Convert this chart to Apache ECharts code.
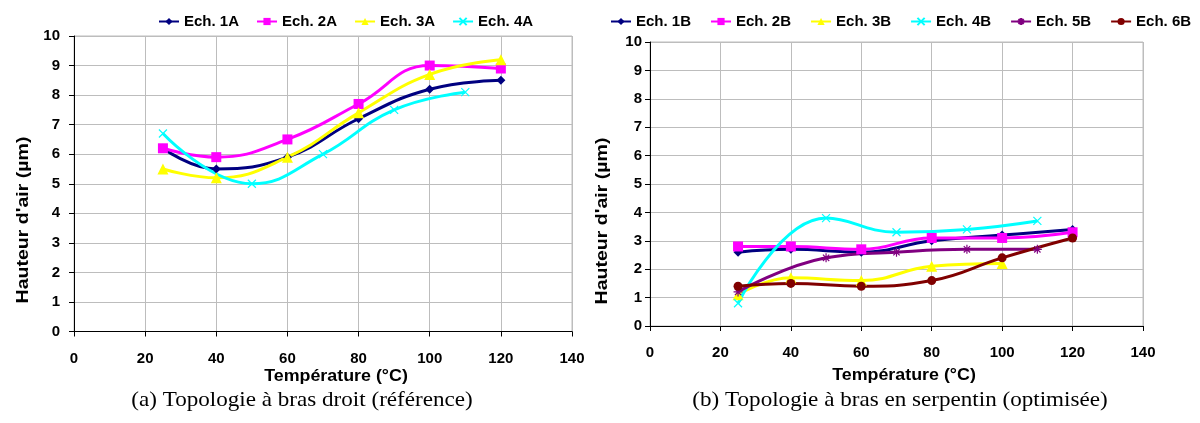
<!DOCTYPE html>
<html>
<head>
<meta charset="utf-8">
<title>Hauteur d'air</title>
<script src="https://cdn.jsdelivr.net/npm/echarts@6/dist/echarts.min.js"></script>
<style>
  html, body { margin: 0; padding: 0; background: #fff; }
  #chart { width: 1200px; height: 423px; }
</style>
</head>
<body>
<div id="chart"></div>
<script>
// températures (°C)
const tempMain = [25, 40, 60, 80, 100, 120]
const tempAlt = [25, 50, 70, 90, 110]

// (a) topologie à bras droit
const ech1A = [6.2, 5.5, 5.9, 7.2, 8.2, 8.5]
const ech2A = [6.2, 5.9, 6.5, 7.7, 9.0, 8.9]
const ech3A = [5.5, 5.2, 5.9, 7.4, 8.7, 9.2]
const ech4A = [6.7, 5.0, 6.0, 7.5, 8.1]

// (b) topologie à bras en serpentin
const ech1B = [2.6, 2.7, 2.6, 3.0, 3.2, 3.4]
const ech2B = [2.8, 2.8, 2.7, 3.1, 3.1, 3.3]
const ech3B = [1.1, 1.7, 1.6, 2.1, 2.2]
const ech4B = [0.8, 3.8, 3.3, 3.4, 3.7]
const ech5B = [1.2, 2.4, 2.6, 2.7, 2.7]
const ech6B = [1.4, 1.5, 1.4, 1.6, 2.4, 3.1]

const xTicks = [0, 20, 40, 60, 80, 100, 120, 140]

const font = 'Liberation Sans, Arial, sans-serif'
const serif = 'Liberation Serif, Times New Roman, serif'
const xMark = 'path://M0,0L10,10M10,0L0,10'
const starMark = 'path://M0,5L10,5M5,0L5,10M1.5,1.5L8.5,8.5M8.5,1.5L1.5,8.5'

// associe les abscisses et les valeurs
function pts(xs, ys) {
  return ys.map((y, i) => [xs[i], y])
}

function serie(name, grid, xs, ys, color, symbol, size, stroke) {
  return {
    name: name,
    type: 'line',
    xAxisIndex: grid,
    yAxisIndex: grid,
    data: pts(xs, ys),
    smooth: 0.45,
    symbol: symbol,
    symbolSize: size,
    showAllSymbol: true,
    lineStyle: { color: color, width: 3 },
    itemStyle: stroke
      ? { color: color, borderColor: color, borderWidth: 1.2 }
      : { color: color, borderWidth: 0 },
    emphasis: { disabled: true },
    z: 3
  }
}

function xAxisCfg(grid, margin) {
  return {
    gridIndex: grid,
    type: 'value',
    min: 0,
    max: 140,
    interval: 20,
    axisLine: { show: true, onZero: false, lineStyle: { color: '#000', width: 1 } },
    axisTick: { show: true, length: 5, lineStyle: { color: '#000' } },
    axisLabel: {
      margin: margin,
      color: '#000',
      fontFamily: font,
      fontWeight: 'bold',
      fontSize: 15,
      formatter: v => (xTicks.indexOf(v) >= 0 ? String(v) : '')
    },
    splitLine: { show: true, lineStyle: { color: '#bdbdbd', width: 1 } }
  }
}

function yAxisCfg(grid, margin) {
  return {
    gridIndex: grid,
    type: 'value',
    min: 0,
    max: 10,
    interval: 1,
    axisLine: { show: true, onZero: false, lineStyle: { color: '#000', width: 1 } },
    axisTick: { show: true, length: 5, lineStyle: { color: '#000' } },
    axisLabel: {
      margin: margin,
      color: '#000',
      fontFamily: font,
      fontWeight: 'bold',
      fontSize: 15
    },
    splitLine: { show: true, lineStyle: { color: '#bdbdbd', width: 1 } }
  }
}

// texte libre (titres d'axes, légendes des figures)
function label(text, x, y, css, rotate, sx) {
  return {
    type: 'text', x: x, y: y,
    rotation: rotate ? Math.PI / 2 : 0,
    scaleX: sx || 1,
    style: { text: text, fill: '#000', font: css, align: 'center', verticalAlign: 'middle' }
  }
}

const legendText = { color: '#000', fontFamily: font, fontWeight: 'bold', fontSize: 15 }

const chart = echarts.init(document.getElementById('chart'), null, { renderer: 'canvas' })

const option = {
  animation: false,
  backgroundColor: '#fff',
  grid: [
    { left: 74, top: 36, width: 498, height: 295.5, show: true, borderColor: '#bdbdbd', borderWidth: 1 },
    { left: 650, top: 42, width: 493, height: 284, show: true, borderColor: '#bdbdbd', borderWidth: 1 }
  ],
  legend: [
    {
      data: ['Ech. 1A', 'Ech. 2A', 'Ech. 3A', 'Ech. 4A'],
      left: 153, top: 9, itemWidth: 20, itemHeight: 9, itemGap: 17,
      textStyle: legendText
    },
    {
      data: ['Ech. 1B', 'Ech. 2B', 'Ech. 3B', 'Ech. 4B', 'Ech. 5B', 'Ech. 6B'],
      left: 605, right: 0, top: 9, itemWidth: 20, itemHeight: 9, itemGap: 19,
      textStyle: legendText
    }
  ],
  xAxis: [xAxisCfg(0, 20), xAxisCfg(1, 19)],
  yAxis: [yAxisCfg(0, 14), yAxisCfg(1, 8)],
  series: [
    serie('Ech. 1A', 0, tempMain, ech1A, '#000080', 'diamond', 9),
    serie('Ech. 2A', 0, tempMain, ech2A, '#FF00FF', 'rect', 10),
    serie('Ech. 3A', 0, tempMain, ech3A, '#FFFF00', 'triangle', 11),
    serie('Ech. 4A', 0, tempAlt, ech4A, '#00FFFF', xMark, 8, true),
    serie('Ech. 1B', 1, tempMain, ech1B, '#000080', 'diamond', 9),
    serie('Ech. 2B', 1, tempMain, ech2B, '#FF00FF', 'rect', 10),
    serie('Ech. 3B', 1, tempMain, ech3B, '#FFFF00', 'triangle', 11),
    serie('Ech. 4B', 1, tempAlt, ech4B, '#00FFFF', xMark, 8, true),
    serie('Ech. 5B', 1, tempAlt, ech5B, '#800080', starMark, 9, true),
    serie('Ech. 6B', 1, tempMain, ech6B, '#800000', 'circle', 9)
  ],
  graphic: [
    label("Hauteur d'air (µm)", 23, 220, 'bold 17px ' + font, true, 1.15),
    label("Hauteur d'air (µm)", 602, 221, 'bold 17px ' + font, true, 1.15),
    label('Température (°C)', 336, 376, 'bold 17px ' + font, false, 1.05),
    label('Température (°C)', 904, 375, 'bold 17px ' + font, false, 1.05),
    label('(a) Topologie à bras droit (référence)', 302, 400, '22px ' + serif, false, 1.05),
    label('(b) Topologie à bras en serpentin (optimisée)', 900, 400, '22px ' + serif, false, 1.05)
  ]
}

chart.setOption(option)
</script>
</body>
</html>
